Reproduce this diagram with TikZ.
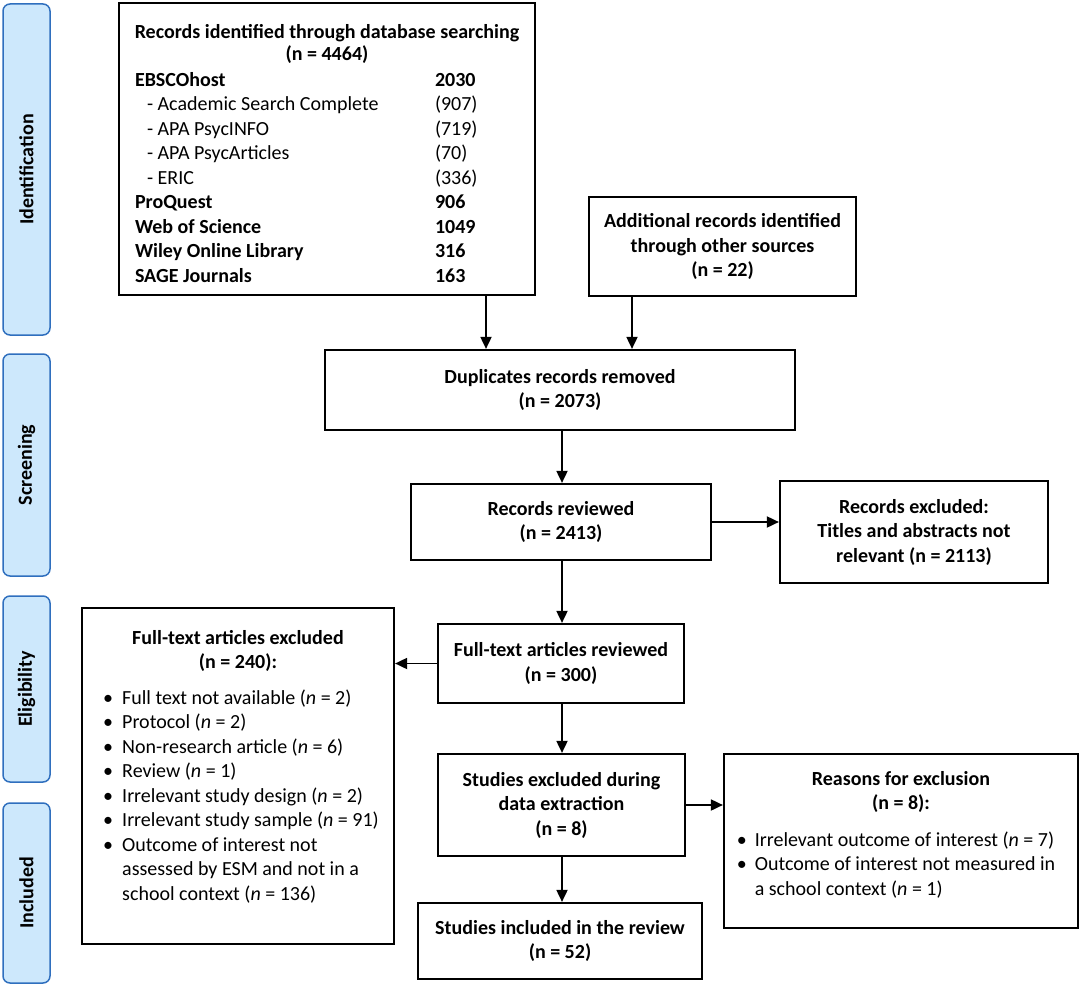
\documentclass[tikz,border=0pt]{standalone}
\usepackage{fontspec}
\setmainfont{Carlito}
\usetikzlibrary{arrows.meta}
\definecolor{sidefill}{RGB}{205,232,252}
\definecolor{sideline}{RGB}{47,111,190}
\newcommand{\bul}{\makebox[19pt][l]{\textbullet}}
\begin{document}
\begin{tikzpicture}[x=1pt,y=-1pt,
  font=\fontsize{20}{24.5}\selectfont,
  box/.style={draw=black, line width=2.2pt, inner sep=0pt, align=center, font=\fontsize{20}{24.5}\selectfont\bfseries},
  listbox/.style={draw=black, line width=2.2pt, inner sep=0pt},
  side/.style={draw=sideline, fill=sidefill, line width=1.5pt, rounded corners=7pt, inner sep=0pt, rotate=90, minimum height=47pt, font=\fontsize{20}{24.5}\selectfont\bfseries},
  arr/.style={line width=1.8pt, -{Triangle[length=12pt,width=11pt]}}]
\useasboundingbox (0,0) rectangle (1084,987);
% side bars
\node[side, minimum width=331pt] (sid) at (26.5,169.5) {Identification};
\node[side, minimum width=222pt] (ssc) at (26.5,465) {Screening};
\node[side, minimum width=186pt] (sel) at (26.5,689) {Eligibility};
\node[side, minimum width=180pt] (sin) at (26.5,893) {Included};
% boxes
\node[listbox, minimum width=416pt, minimum height=292pt] (db) at (327,149) {%
\begin{tabular}{@{}p{300pt}@{}p{84pt}@{}}
\multicolumn{2}{c}{\rule{0pt}{30pt}\makebox[0pt]{\textbf{Records identified through database searching}}}\\[-2pt]
\multicolumn{2}{c}{\textbf{(n = 4464)}}\\[1pt]
\textbf{EBSCOhost} & \textbf{2030}\\
\hspace*{12pt}- Academic Search Complete & (907)\\
\hspace*{12pt}- APA PsycINFO & (719)\\
\hspace*{12pt}- APA PsycArticles & (70)\\
\hspace*{12pt}- ERIC & (336)\\
\textbf{ProQuest} & \textbf{906}\\
\textbf{Web of Science} & \textbf{1049}\\
\textbf{Wiley Online Library} & \textbf{316}\\
\textbf{SAGE Journals} & \textbf{163}
\end{tabular}};
\node[box, minimum width=267pt, minimum height=99pt] (add) at (722.5,246.5) {Additional records identified\\through other sources\\(n = 22)};
\node[box, minimum width=470pt, minimum height=80pt] (dup) at (560,390) {Duplicates records removed\\(n = 2073)};
\node[box, minimum width=300pt, minimum height=76pt] (rev) at (561,522) {Records reviewed\\(n = 2413)};
\node[box, minimum width=268pt, minimum height=102pt] (exc) at (914,532) {Records excluded:\\Titles and abstracts not\\relevant (n = 2113)};
\node[box, minimum width=246pt, minimum height=79pt] (ft) at (561,663.5) {Full-text articles reviewed\\(n = 300)};
\node[listbox, minimum width=312pt, minimum height=336pt] (ftex) at (238,776) {%
\begin{tabular}{@{}l@{}l@{\hspace{-6pt}}}
\multicolumn{2}{c}{\textbf{Full-text articles excluded}}\\
\multicolumn{2}{c}{\textbf{(n = 240):}}\\[11pt]
\bul & Full text not available (\textit{n} = 2)\\
\bul & Protocol (\textit{n} = 2)\\
\bul & Non-research article (\textit{n} = 6)\\
\bul & Review (\textit{n} = 1)\\
\bul & Irrelevant study design (\textit{n} = 2)\\
\bul & Irrelevant study sample (\textit{n} = 91)\\
\bul & Outcome of interest not\\
 & assessed by ESM and not in a\\
 & school context (\textit{n} = 136)\\[17pt]
\end{tabular}};
\node[box, minimum width=247pt, minimum height=102pt] (sed) at (561.5,805) {Studies excluded during\\data extraction\\(n = 8)};
\node[listbox, minimum width=354pt, minimum height=174pt] (rsn) at (901,841) {%
\begin{tabular}{@{}l@{}l@{\hspace{10pt}}}
\multicolumn{2}{c}{\textbf{Reasons for exclusion}}\\
\multicolumn{2}{c}{\textbf{(n = 8):}}\\[12pt]
\makebox[18pt][l]{\textbullet} & Irrelevant outcome of interest (\textit{n} = 7)\\
\makebox[18pt][l]{\textbullet} & Outcome of interest not measured in\\
 & a school context (\textit{n} = 1)\\[11pt]
\end{tabular}};
\node[box, minimum width=284pt, minimum height=76pt] (inc) at (560,941) {Studies included in the review\\(n = 52)};
% connectors
\coordinate (c1) at (486,0);
\coordinate (c2) at (632,0);
\coordinate (cx) at (562,0);
\draw[arr] (db.south -| c1) -- (dup.north -| c1);
\draw[arr] (add.south -| c2) -- (dup.north -| c2);
\draw[arr] (dup.south -| cx) -- (rev.north -| cx);
\draw[arr] (rev.east) -- (exc.west |- rev.east);
\draw[arr] (rev.south -| cx) -- (ft.north -| cx);
\draw[arr] (ft.west) -- (ftex.east |- ft.west);
\draw[arr] (ft.south -| cx) -- (sed.north -| cx);
\draw[arr] (sed.east) -- (rsn.west |- sed.east);
\draw[arr] (sed.south -| cx) -- (inc.north -| cx);
\end{tikzpicture}
\end{document}
